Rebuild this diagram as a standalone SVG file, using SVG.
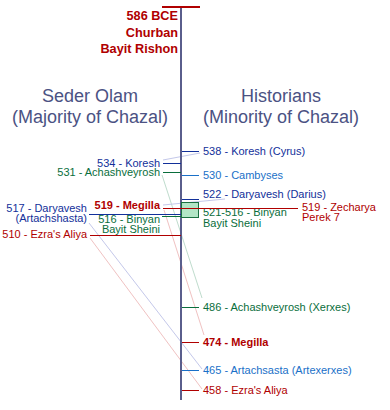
<svg xmlns="http://www.w3.org/2000/svg" width="390" height="410" viewBox="0 0 390 410">
<style>
text{font-family:"Liberation Sans",Arial,sans-serif;font-size:11px}
.h{font-size:18px;fill:#4b5283;text-anchor:middle}
.t{font-size:12.7px;font-weight:bold;fill:#b00000;text-anchor:end}
.e{text-anchor:end}
.b{font-weight:bold}
.navy{fill:#12309a}.blue{fill:#1a70c8}.green{fill:#0a6e3c}.red{fill:#b00000}
.tk{stroke-width:1;fill:none}
.sn{stroke:#12309a}.sb{stroke:#1a70c8}.sg{stroke:#0a6e3c}.sr{stroke:#b00000}
.c{stroke-width:1;fill:none}
.cb{stroke:#c4c8ea}.cg{stroke:#bfdccd}.cr{stroke:#f0c2c2}
</style>
<g id="connectors">
<line class="c cb" x1="163" y1="160" x2="200" y2="153"/>
<line class="c cg" x1="162" y1="175" x2="202" y2="298"/>
<line class="c cr" x1="164" y1="210" x2="204" y2="335"/>
<line class="c cb" x1="163" y1="205" x2="225" y2="199"/>
<line class="c cb" x1="89" y1="223" x2="202" y2="369"/>
<line class="c cr" x1="90" y1="238" x2="202" y2="389"/>
</g>
<g id="axis">
<line x1="181" y1="7" x2="181" y2="400" stroke="#5a5e8c" stroke-width="2"/>
<line x1="162" y1="7" x2="200" y2="7" stroke="#b00000" stroke-width="2"/>
</g>
<g id="title">
<text class="t" x="178" y="20">586 BCE</text>
<text class="t" x="178" y="37">Churban</text>
<text class="t" x="178" y="53">Bayit Rishon</text>
</g>
<g id="heading-left">
<text class="h" x="90" y="102">Seder Olam</text>
<text class="h" x="90" y="123">(Majority of Chazal)</text>
</g>
<g id="heading-right">
<text class="h" x="281" y="102">Historians</text>
<text class="h" x="281" y="123">(Minority of Chazal)</text>
</g>
<g id="l534">
<line class="tk sn" x1="163" y1="163.5" x2="181" y2="163.5"/>
<text class="e navy" x="160" y="167">534 - Koresh</text>
</g>
<g id="l531">
<line class="tk sg" x1="163" y1="172.5" x2="181" y2="172.5"/>
<text class="e green" x="160" y="176">531 - Achashveyrosh</text>
</g>
<g id="l519">
<text class="e b red" x="160" y="209">519 - Megilla</text>
</g>
<g id="l517">
<line class="tk sn" x1="89" y1="214.5" x2="181" y2="214.5"/>
<text class="e navy" x="87" y="211.5">517 - Daryavesh</text>
<text class="e navy" x="87" y="221.5">(Artachshasta)</text>
</g>
<g id="l516">
<line class="tk sg" x1="162" y1="216.5" x2="181" y2="216.5"/>
<text class="e green" x="160" y="222.5">516 - Binyan</text>
<text class="e green" x="160" y="232.5">Bayit Sheini</text>
</g>
<g id="l510">
<line class="tk sr" x1="90" y1="235.5" x2="181" y2="235.5"/>
<text class="e red" x="87" y="238">510 - Ezra's Aliya</text>
</g>
<g id="r538">
<line class="tk sn" x1="182" y1="151.5" x2="199" y2="151.5"/>
<text class="navy" x="203" y="155">538 - Koresh (Cyrus)</text>
</g>
<g id="r530">
<line class="tk sb" x1="182" y1="175.5" x2="199" y2="175.5"/>
<text class="blue" x="203" y="178.5">530 - Cambyses</text>
</g>
<g id="r522">
<line class="tk sn" x1="182" y1="199.5" x2="199" y2="199.5"/>
<text class="navy" x="203" y="197.5">522 - Daryavesh (Darius)</text>
</g>
<g id="r521">
<rect x="181.5" y="202.5" width="17" height="15" fill="#b2e6c6" stroke="#1a7040" stroke-width="1"/>
<text class="green" x="203" y="216">521-516 - Binyan</text>
<text class="green" x="203" y="227">Bayit Sheini</text>
</g>
<g id="r519">
<line class="tk sr" x1="163" y1="208.5" x2="298" y2="208.5"/>
<text class="red" x="302" y="211">519 - Zecharya</text>
<text class="red" x="302" y="221">Perek 7</text>
</g>
<g id="r486">
<line class="tk sg" x1="182" y1="307.5" x2="199" y2="307.5"/>
<text class="green" x="203" y="311">486 - Achashveyrosh (Xerxes)</text>
</g>
<g id="r474">
<line class="tk sr" x1="182" y1="342.5" x2="199" y2="342.5"/>
<text class="b red" x="203" y="346">474 - Megilla</text>
</g>
<g id="r465">
<line class="tk sb" x1="182" y1="370.5" x2="199" y2="370.5"/>
<text class="blue" x="203" y="374">465 - Artachsasta (Artexerxes)</text>
</g>
<g id="r458">
<line class="tk sr" x1="182" y1="390.5" x2="199" y2="390.5"/>
<text class="red" x="203" y="394">458 - Ezra's Aliya</text>
</g>
</svg>
